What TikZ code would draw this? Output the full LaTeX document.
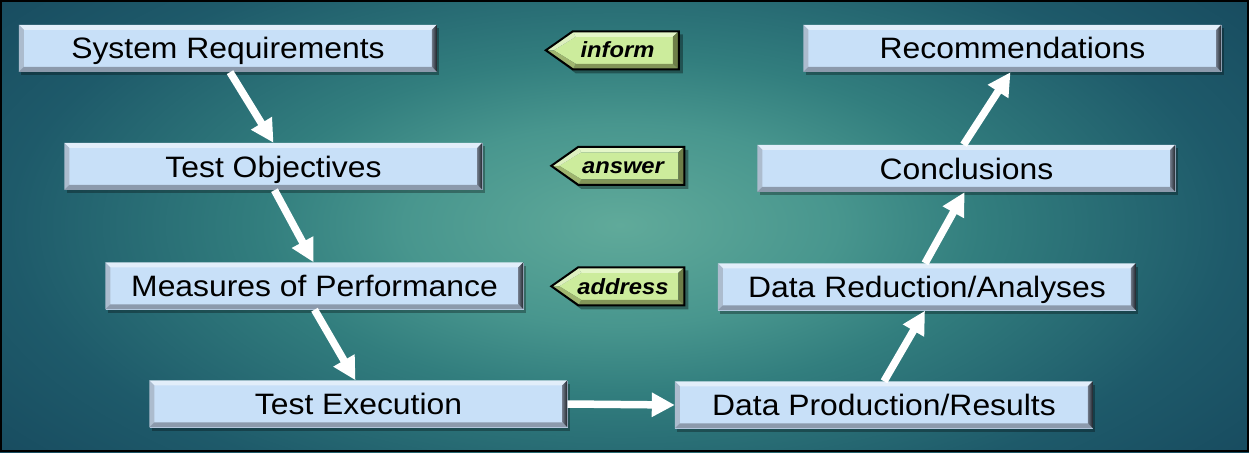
\documentclass[tikz,border=0pt]{standalone}
\usepackage{fontspec}
\setmainfont{Liberation Sans}
\newfontfamily\boxfont[FakeStretch=1.08]{Liberation Sans}
\newfontfamily\tagfont[FakeStretch=1.08]{Liberation Sans}
\usetikzlibrary{arrows.meta,shadows}
\definecolor{bgc}{RGB}{96,170,154}
\definecolor{bgq}{RGB}{72,150,142}
\definecolor{bgm}{RGB}{50,126,126}
\definecolor{bge}{RGB}{30,90,106}
\definecolor{bgo}{RGB}{24,76,96}
\definecolor{boxface}{RGB}{200,224,248}
\definecolor{bvtop}{RGB}{226,238,250}
\definecolor{bvleft}{RGB}{172,188,206}
\definecolor{bvbot}{RGB}{140,154,172}
\definecolor{bvrin}{RGB}{110,120,135}
\definecolor{bvrout}{RGB}{30,34,40}
\definecolor{tagface}{RGB}{204,236,156}
\definecolor{tagtop}{RGB}{228,246,200}
\definecolor{tagbot}{RGB}{130,148,88}
\definecolor{tagright}{RGB}{110,126,72}
\definecolor{tagll}{RGB}{160,182,112}
\pgfdeclareradialshading{bgshade}{\pgfpoint{0bp}{0bp}}{color(0bp)=(bgc); color(6bp)=(bgq); color(10bp)=(bgm); color(17bp)=(bge); color(22bp)=(bgo); color(50bp)=(bgo)}
\pgfdeclarelayer{back}
\pgfdeclarelayer{bg}
\pgfsetlayers{back,bg,main}
\newcommand\boxdeco[1]{%
  \begin{scope}[shift={(#1.north west)}]
    \fill[bvtop] (0,0) -- (418,0) -- (413,5) -- (5,5) -- cycle;
    \fill[bvleft] (0,0) -- (5,5) -- (5,42) -- (0,47) -- cycle;
    \fill[bvbot] (0,47) -- (418,47) -- (413,42) -- (5,42) -- cycle;
    \shade[left color=bvrin, right color=bvrout] (418,0) -- (418,47) -- (413,42) -- (413,5) -- cycle;
  \end{scope}}
\newcommand\tagdeco[1]{%
  \begin{pgfonlayer}{bg}
  \begin{scope}[shift={(#1.north west)}]
    \fill[black, opacity=0.35] (4,23) -- (31,4) -- (138,4) -- (138,43) -- (31,43) -- cycle;
    \fill[tagface] (9,20) -- (31,6.5) -- (128,6.5) -- (128,33.5) -- (31,33.5) -- cycle;
    \fill[tagtop] (28,1) -- (134,1) -- (128,6.5) -- (31,6.5) -- cycle;
    \fill[tagtop!90!tagll] (1,20) -- (28,1) -- (31,6.5) -- (9,20) -- cycle;
    \fill[tagright] (134,1) -- (134,39) -- (128,33.5) -- (128,6.5) -- cycle;
    \fill[tagbot] (28,39) -- (134,39) -- (128,33.5) -- (31,33.5) -- cycle;
    \fill[tagll] (1,20) -- (28,39) -- (31,33.5) -- (9,20) -- cycle;
    \draw[black, line width=2pt, line join=miter] (1,20) -- (28,1) -- (134,1) -- (134,39) -- (28,39) -- cycle;
  \end{scope}
  \end{pgfonlayer}}
\begin{document}
\begin{tikzpicture}[x=1pt,y=-1pt,
  bbox/.style={minimum width=418pt, minimum height=47pt, inner sep=0pt,
    fill=boxface, text height=21pt, text depth=0pt,
    font=\boxfont\fontsize{29.5}{30}\selectfont,
    drop shadow={shadow xshift=2pt, shadow yshift=-3pt, opacity=0.3, fill=black}},
  tagn/.style={minimum width=135pt, minimum height=40pt, inner sep=0pt,
    text height=15pt, text depth=0pt,
    font=\tagfont\bfseries\itshape\fontsize{22}{24}\selectfont},
  arr/.style={draw=white, line width=7.5pt, -{Triangle[length=23pt,width=23pt]}}
]
\useasboundingbox (0,0) rectangle (1249,452);
\begin{pgfonlayer}{back}
\fill[bgo] (0,0) rectangle (1249,452);
\begin{scope}
  \clip (0,0) rectangle (1249,452);
  \shade[shading=bgshade] (620,225) ellipse [x radius=900pt, y radius=420pt];
\end{scope}
\draw[black, line width=2pt] (1,1) rectangle (1248,451);
\end{pgfonlayer}

\node[bbox] (sr)  at (228,48.5)   {System Requirements};
\node[bbox] (to)  at (273.5,166.5) {Test Objectives};
\node[bbox] (mop) at (314.5,286)  {Measures of Performance};
\node[bbox] (te)  at (358.5,404)  {Test Execution};
\node[bbox] (dpr) at (884,405)    {Data Production/Results};
\node[bbox] (dra) at (927,287)    {Data Reduction/Analyses};
\node[bbox] (con) at (966.5,168.5) {Conclusions};
\node[bbox] (rec) at (1012.5,48.5) {Recommendations};
\foreach \n in {sr,to,mop,te,dpr,dra,con,rec} {\boxdeco{\n}}

\node[tagn] (tinf) at (612.5,50.5) {\hspace*{10pt}inform};
\node[tagn] (tans) at (618,166)    {\hspace*{10pt}answer};
\node[tagn] (tadd) at (618,286.5)  {\hspace*{10pt}address};
\foreach \n in {tinf,tans,tadd} {\tagdeco{\n}}

\draw[arr] ([xshift=2pt]sr.south) -- (to.north);
\draw[arr] ([xshift=1pt]to.south) -- ([xshift=-1pt]mop.north);
\draw[arr] (mop.south) -- ([xshift=-3pt]te.north);
\draw[arr] (te.east) -- (dpr.west);
\draw[arr] (dpr.north) -- ([xshift=-2pt]dra.south);
\draw[arr] ([xshift=-2pt]dra.north) -- ([xshift=-2pt]con.south);
\draw[arr] ([xshift=-3pt]con.north) -- ([xshift=-2pt]rec.south);
\end{tikzpicture}
\end{document}
